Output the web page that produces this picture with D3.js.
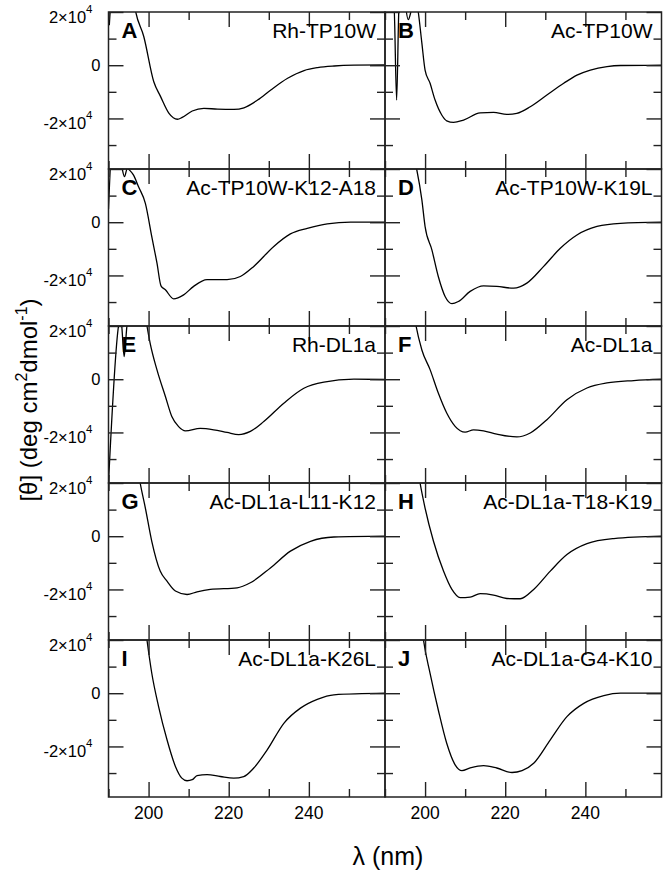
<!DOCTYPE html>
<html>
<head>
<meta charset="utf-8">
<script src="https://cdn.jsdelivr.net/npm/d3@7"></script>
<style>
  body { margin: 0; background: #fff; }
  svg { display: block; font-family: "Liberation Sans", Arial, Helvetica, sans-serif; }
</style>
</head>
<body>
<svg id="chart" width="664" height="876"></svg>
<script>
// panel letters / peptide names, row by row (left, right)
const panelLetters = ['A', 'B', 'C', 'D', 'E', 'F', 'G', 'H', 'I', 'J'];
const panelNames = ['Rh-TP10W', 'Ac-TP10W', 'Ac-TP10W-K12-A18', 'Ac-TP10W-K19L',
    'Rh-DL1a', 'Ac-DL1a', 'Ac-DL1a-L11-K12', 'Ac-DL1a-T18-K19',
    'Ac-DL1a-K26L', 'Ac-DL1a-G4-K10'];

const xMajorTicks = [200, 220, 240];
const xMinorTicks = [190, 210, 230, 250];
const xTickLabels = ['200', '220', '240'];
const yMajorTicks = [20000, 0, -20000];
const yMinorTicks = [10000, -10000, -30000];
const yTickLabels = [['2×10', '4'], ['0', ''], ['-2×10', '4']];

// spectra: [wavelength (nm), mean residue ellipticity]
const rhTP10W = [[190.2, 15000], [190.8, 25000], [196.2, 25000], [196.8, 20000], [198.8, 10800],
    [201.3, -6200], [203, -11800], [205.1, -18100], [207.2, -20300], [208.4, -19600], [210.9, -17200],
    [213.8, -16200], [217.2, -16500], [221.3, -16600], [223.8, -16000], [227.2, -13100], [230.5, -9300],
    [234.7, -4900], [238.8, -2000], [242.2, -900], [246.3, -300], [251.3, 0], [259, 100]];
const acTP10W = [[190, 25000], [192.25, 22000], [192.9, -13100], [193.5, 22000], [194.5, 27000],
    [195.8, 17100], [196.7, 21500], [197.6, 26000], [198.3, 20000], [199.2, 8300], [200, -1800],
    [201.25, -6800], [202.5, -13100], [204.2, -18800], [205.4, -20900], [207.1, -21500], [209.6, -20600],
    [213.75, -17900], [217.1, -17700], [220.4, -18500], [222.9, -18100], [226.25, -15600], [230.4, -11200],
    [234.6, -6800], [237.9, -3700], [241.25, -1800], [245.4, -500], [248.8, -100], [259, 0]];
const acTP10WK12A18 = [[190, 5000], [190.8, 25000], [192.8, 25000], [193.3, 21000], [194, 17100],
    [194.7, 20300], [195.3, 19500], [196.25, 17700], [197.5, 13300], [199.2, 7100], [200.8, -5400],
    [202.1, -15400], [203.1, -23900], [204.2, -25400], [206.25, -28800], [208.75, -27300], [211.25, -24100],
    [214.6, -21600], [219.6, -21600], [222.9, -20400], [226.25, -16600], [231.25, -9100], [235.4, -4400],
    [239.6, -2300], [244.6, -600], [250.4, 0], [259, 0]];
const acTP10WK19L = [[197, 26000], [197.9, 20000], [199.2, 8400], [200, -1600], [201.7, -10400],
    [203.3, -20400], [205, -27900], [206.7, -30600], [208.3, -29800], [211.25, -26000], [214.6, -23900],
    [217.9, -24100], [222.1, -24800], [225.4, -22900], [229.6, -16600], [233.75, -9800], [237.9, -4800],
    [242.9, -1600], [248.75, -400], [259, 0]];
const rhDL1a = [[190, -39000], [192.5, 20000], [192.9, 23000], [193.3, 20000], [193.9, 8500],
    [194.6, 20000], [195.2, 25000], [199, 26000], [199.6, 20000], [200.4, 13500], [202.1, 3500],
    [204.2, -6500], [205.8, -14000], [207.5, -17800], [209.2, -19400], [212.9, -18500], [216.25, -19000],
    [219.6, -20000], [222.5, -20800], [225.4, -19600], [228.75, -15900], [233.75, -9000], [238.75, -3400],
    [243.75, -1100], [251.25, 0], [259, -100]];
const acDL1a = [[197, 27000], [197.75, 20000], [199.2, 11000], [201.25, 3600], [203.3, -5200],
    [205.4, -12700], [207.5, -17700], [210, -19900], [212.1, -19000], [214.6, -19400], [217.9, -20600],
    [222.9, -21700], [226.25, -20200], [230.4, -15200], [235.4, -7700], [240.4, -3300], [245.4, -1400],
    [252.1, -500], [259, 0]];
const acDL1aL11K12 = [[197, 28000], [197.9, 20000], [199.2, 10600], [200.8, -1900], [202.9, -13100],
    [204.6, -16900], [206.7, -20600], [209.6, -21900], [212.1, -20900], [215.4, -20000], [222.1, -19400],
    [225.4, -17500], [230.4, -11900], [235.4, -5600], [240.4, -1900], [246.25, -300], [259, 0]];
const acDL1aT18K19 = [[198, 27000], [198.75, 20000], [200, 10600], [202.1, -1900], [204.6, -13100],
    [206.7, -20000], [208.75, -23100], [211.25, -22900], [213.75, -21600], [217.1, -22100], [220.4, -23400],
    [223.75, -23500], [227.1, -20000], [231.25, -13100], [235.4, -6900], [240.4, -2800], [247.1, -900],
    [259, 0]];
const acDL1aK26L = [[199, 27000], [199.6, 20000], [200.8, 7500], [202.5, -5000], [204.6, -17500],
    [206.7, -27500], [208.3, -31900], [209.6, -32900], [210.9, -32500], [212.1, -31000], [214.6, -30600],
    [217.9, -31300], [221.25, -31900], [223.75, -31300], [226.25, -28100], [229.6, -21300], [233.75, -11300],
    [237.9, -5600], [242.1, -2300], [246.25, -600], [259, 0]];
const acDL1aG4K10 = [[199, 27000], [199.6, 20000], [201.25, 7500], [203.3, -6300], [205.4, -18800],
    [207.5, -26900], [209.2, -29100], [211.25, -28100], [214.6, -27200], [217.9, -28100], [221.7, -29800],
    [224.2, -29100], [227.1, -26300], [231.25, -17500], [235.4, -8800], [239.6, -3800], [244.6, -900],
    [248.75, 0], [259, 0]];

const spectra = [rhTP10W, acTP10W, acTP10WK12A18, acTP10WK19L, rhDL1a, acDL1a,
    acDL1aL11K12, acDL1aT18K19, acDL1aK26L, acDL1aG4K10];

// layout
const colLeft = [108.5, 385];
const panelW = 276.5;
const top0 = 12;
const panelH = 157;
const nRows = 5;

const svg = d3.select('#chart');

const x = d3.scaleLinear().domain([190, 259]).range([0, panelW]);
const y = d3.scaleLinear().domain([-39000, 20000]).range([panelH, 0]);

const line = d3.line()
    .x(d => x(d[0]))
    .y(d => y(d[1]))
    .curve(d3.curveMonotoneX);

function drawTicks(g, axis, values, size) {
    g.call(axis.tickValues(values).tickSize(size).tickFormat(''));
    g.select('.domain').remove();
    g.selectAll('.tick line').attr('stroke', '#222').attr('stroke-width', 1.4);
}

spectra.forEach((spec, i) => {
    const row = Math.floor(i / 2);
    const col = i % 2;
    const gx = colLeft[col];
    const gy = top0 + row * panelH;
    const g = svg.append('g').attr('transform', `translate(${gx},${gy})`);

    g.append('clipPath').attr('id', 'clip' + i)
        .append('rect').attr('width', panelW).attr('height', panelH);

    g.append('path')
        .datum(spec)
        .attr('clip-path', `url(#clip${i})`)
        .attr('fill', 'none')
        .attr('stroke', '#000')
        .attr('stroke-width', 1.3)
        .attr('d', line);

    // inward ticks on all four sides
    drawTicks(g.append('g'), d3.axisLeft(y), yMajorTicks, -15);
    drawTicks(g.append('g'), d3.axisLeft(y), yMinorTicks, -8);
    drawTicks(g.append('g').attr('transform', `translate(${panelW},0)`), d3.axisRight(y), yMajorTicks, -15);
    drawTicks(g.append('g').attr('transform', `translate(${panelW},0)`), d3.axisRight(y), yMinorTicks, -8);
    drawTicks(g.append('g'), d3.axisTop(x), xMajorTicks, -15);
    drawTicks(g.append('g'), d3.axisTop(x), xMinorTicks, -8);
    drawTicks(g.append('g').attr('transform', `translate(0,${panelH})`), d3.axisBottom(x), xMajorTicks, -15);
    drawTicks(g.append('g').attr('transform', `translate(0,${panelH})`), d3.axisBottom(x), xMinorTicks, -8);

    g.append('rect')
        .attr('width', panelW).attr('height', panelH)
        .attr('fill', 'none').attr('stroke', '#222').attr('stroke-width', 1.5);

    g.append('text')
        .attr('x', 13).attr('y', 26)
        .attr('font-size', 22).attr('font-weight', 'bold')
        .text(panelLetters[i]);

    g.append('text')
        .attr('x', panelW - 9).attr('y', 26)
        .attr('text-anchor', 'end')
        .attr('font-size', 21)
        .text(panelNames[i]);

    // y tick labels on the left column
    if (col === 0) {
        yMajorTicks.forEach((v, k) => {
            const [base, sup] = yTickLabels[k];
            const t = g.append('text')
                .attr('text-anchor', 'end')
                .attr('font-size', 16.5);
            if (sup) {
                t.attr('x', -16).attr('y', y(v) + 10.5);
                t.append('tspan').text(base);
                t.append('tspan').attr('font-size', 11.5).attr('dy', -10).text(sup);
            } else {
                t.attr('x', -8).attr('y', y(v) + 6).text(base);
            }
        });
    }

    // x tick labels on the bottom row
    if (row === nRows - 1) {
        xMajorTicks.forEach((v, k) => {
            g.append('text')
                .attr('x', x(v)).attr('y', panelH + 22)
                .attr('text-anchor', 'middle')
                .attr('font-size', 17.5)
                .text(xTickLabels[k]);
        });
    }
});

// axis titles
svg.append('text')
    .attr('x', 388).attr('y', 865)
    .attr('text-anchor', 'middle')
    .attr('font-size', 25)
    .text('λ (nm)');

const yTitle = svg.append('text')
    .attr('transform', 'translate(37,400) rotate(-90)')
    .attr('text-anchor', 'middle')
    .attr('font-size', 24);
yTitle.append('tspan').text('[θ] (deg cm');
yTitle.append('tspan').attr('font-size', 16).attr('dy', -10).text('2');
yTitle.append('tspan').attr('dy', 10).text('dmol');
yTitle.append('tspan').attr('font-size', 16).attr('dy', -10).text('-1');
yTitle.append('tspan').attr('dy', 10).text(')');
</script>
</body>
</html>
